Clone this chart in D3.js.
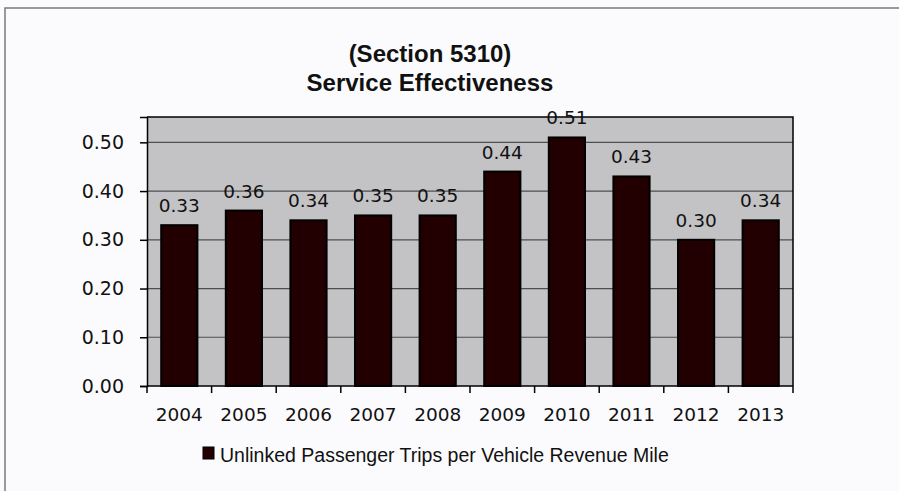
<!DOCTYPE html>
<html>
<head>
<meta charset="utf-8">
<script src="https://cdn.jsdelivr.net/npm/d3@7"></script>
<style>
  html, body { margin: 0; padding: 0; background: #fbfbfd; }
  svg { display: block; }
</style>
</head>
<body>
<svg id="chart" width="899" height="491"></svg>
<script>
// data
const years = ['2004', '2005', '2006', '2007', '2008', '2009', '2010', '2011', '2012', '2013']
const tripsPerMile = [0.33, 0.36, 0.34, 0.35, 0.35, 0.44, 0.51, 0.43, 0.30, 0.34]
const yTicks = [0, 0.1, 0.2, 0.3, 0.4, 0.5]
const titleLines = ['(Section 5310)', 'Service Effectiveness']
const seriesName = 'Unlinked Passenger Trips per Vehicle Revenue Mile'

const svg = d3.select('#chart')
const W = 899, H = 491
const m = { left: 147, right: 106, top: 117, bottom: 105 }
const pw = W - m.left - m.right
const ph = H - m.top - m.bottom

// outer frame
svg.append('path')
  .attr('d', 'M5,' + (H + 5) + ' L5,8 L' + (W + 5) + ',8')
  .attr('fill', 'none')
  .attr('stroke', '#7a7a7a')
  .attr('stroke-width', 1.5)

// title
svg.append('g').selectAll('text').data(titleLines).enter().append('text')
  .attr('x', 430)
  .attr('y', function (d, i) { return 62 + i * 29 })
  .attr('text-anchor', 'middle')
  .style('font-family', '"Liberation Sans", Arial, sans-serif')
  .style('font-size', '24px')
  .style('font-weight', 'bold')
  .style('fill', '#111')
  .text(function (d) { return d })

const x = d3.scaleBand().domain(years).range([0, pw]).paddingInner(0.44).paddingOuter(0.22)
const y = d3.scaleLinear().domain([0, 0.552]).range([ph, 0])

const g = svg.append('g').attr('transform', 'translate(' + m.left + ',' + m.top + ')')

// plot area
g.append('rect').attr('width', pw).attr('height', ph).attr('fill', '#c3c3c5')

// gridlines
g.selectAll('.grid').data(yTicks.slice(1)).enter().append('line')
  .attr('class', 'grid')
  .attr('x1', 0).attr('x2', pw)
  .attr('y1', function (d) { return y(d) }).attr('y2', function (d) { return y(d) })
  .attr('stroke', '#4e4e4e')
  .attr('stroke-width', 1.2)

// plot border top / right
g.append('path')
  .attr('d', 'M0,0 L' + pw + ',0 L' + pw + ',' + ph)
  .attr('fill', 'none')
  .attr('stroke', '#000')
  .attr('stroke-width', 1.5)

// bars
g.selectAll('.bar').data(tripsPerMile).enter().append('rect')
  .attr('class', 'bar')
  .attr('x', function (d, i) { return x(years[i]) })
  .attr('y', function (d) { return y(d) })
  .attr('width', x.bandwidth())
  .attr('height', function (d) { return ph - y(d) })
  .attr('fill', '#220002')
  .attr('stroke', '#000')
  .attr('stroke-width', 2)

// value labels
g.selectAll('.val').data(tripsPerMile).enter().append('text')
  .attr('class', 'val')
  .attr('x', function (d, i) { return x(years[i]) + x.bandwidth() / 2 })
  .attr('y', function (d) { return y(d) - 13 })
  .attr('text-anchor', 'middle')
  .style('font-family', '"DejaVu Sans", Verdana, sans-serif')
  .style('font-size', '18.5px')
  .style('fill', '#111')
  .text(function (d) { return d.toFixed(2) })

// y axis
const yAxis = g.append('g')
  .call(d3.axisLeft(y).tickValues(yTicks).tickSize(7).tickPadding(16).tickFormat(d3.format('.2f')))
yAxis.select('.domain').attr('stroke', '#000').attr('stroke-width', 1.5)
yAxis.selectAll('.tick line').attr('stroke', '#000').attr('stroke-width', 1.5)
yAxis.selectAll('.tick text')
  .style('font-family', '"DejaVu Sans", Verdana, sans-serif')
  .style('font-size', '19px')
  .attr('fill', '#111')

// x axis, ticks sit on the category boundaries
const xAxisG = g.append('g').attr('transform', 'translate(0,' + ph + ')')
xAxisG.append('line').attr('x1', 0).attr('x2', pw).attr('stroke', '#000').attr('stroke-width', 1.5)
const step = x.step()
xAxisG.selectAll('.xt').data(d3.range(years.length + 1)).enter().append('line')
  .attr('class', 'xt')
  .attr('x1', function (i) { return i * step }).attr('x2', function (i) { return i * step })
  .attr('y1', 0).attr('y2', 7)
  .attr('stroke', '#000').attr('stroke-width', 1.5)
xAxisG.selectAll('.xl').data(years).enter().append('text')
  .attr('class', 'xl')
  .attr('x', function (d) { return x(d) + x.bandwidth() / 2 })
  .attr('y', 35)
  .attr('text-anchor', 'middle')
  .style('font-family', '"DejaVu Sans", Verdana, sans-serif')
  .style('font-size', '18.5px')
  .style('fill', '#111')
  .text(function (d) { return d })

// legend
const lg = svg.append('g').attr('transform', 'translate(203,447)')
lg.append('rect').attr('width', 11).attr('height', 12).attr('fill', '#220002').attr('stroke', '#000').attr('stroke-width', 1)
lg.append('text')
  .attr('x', 17).attr('y', 15)
  .style('font-family', '"Liberation Sans", Arial, sans-serif')
  .style('font-size', '19.5px')
  .style('fill', '#111')
  .text(seriesName)
</script>
</body>
</html>
